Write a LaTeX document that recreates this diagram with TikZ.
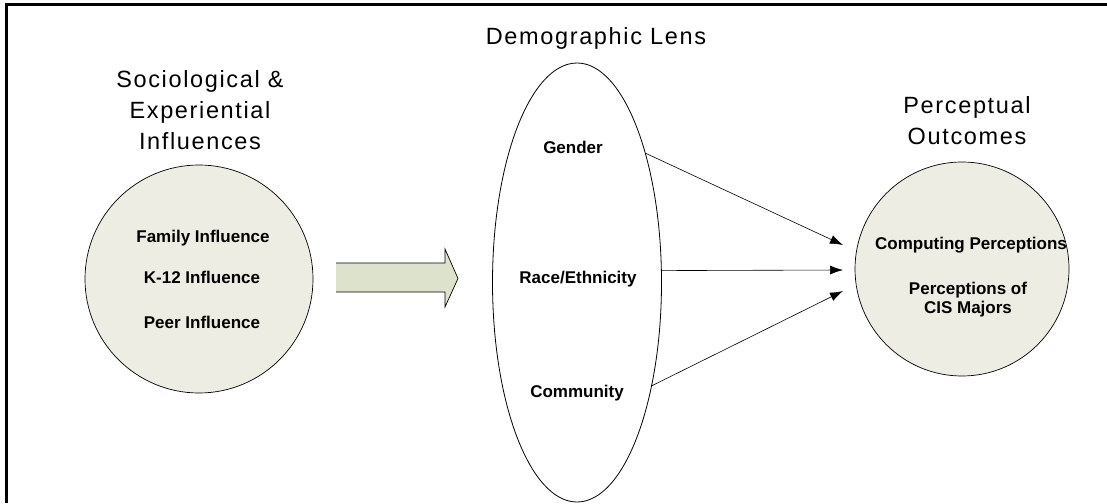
\documentclass[tikz,border=0pt]{standalone}
\usepackage{fontspec}
\setmainfont{Liberation Sans}
\newfontfamily\headfont[LetterSpace=7]{Liberation Sans}
\usetikzlibrary{shapes.geometric,arrows.meta}

\definecolor{bubblefill}{HTML}{EDEDE3}
\definecolor{arrowfill}{HTML}{DDE2CC}

\tikzset{
  heading/.style={font=\headfont\fontsize{23.5}{31}\selectfont, align=center, inner sep=0pt, anchor=north},
  item/.style={font=\bfseries\fontsize{17}{19}\selectfont, align=center, inner sep=0pt, anchor=base},
  bubble/.style={circle, draw, line width=0.7pt, fill=bubblefill, inner sep=0pt},
  lensshape/.style={ellipse, draw, line width=0.8pt, inner sep=0pt},
  link/.style={line width=0.6pt, -{Latex[length=13pt,width=9pt]}},
  frameline/.style={line width=3pt}
}

\begin{document}
\begin{tikzpicture}[x=1pt,y=-1pt]
  \useasboundingbox (0,0) rectangle (1107,503);

  % frame: top and left edges only
  \draw[frameline] (1107,4.5) -- (6.5,4.5) -- (6.5,503);

  % headings
  \node[heading] (hsoc) at (200,70) {Sociological \&\\Experiential\\Influences};
  \node[heading] (hdem) at (596,27) {Demographic Lens};
  \node[heading] (hper) at (967,96) {Perceptual\\Outcomes};

  % left bubble
  \node[bubble, minimum size=228pt] (soc) at (199,279) {};
  \node[item] (fam) at (203,242) {Family Influence};
  \node[item] (k12) at (202,283) {K-12 Influence};
  \node[item] (peer) at (202,328) {Peer Influence};

  % block arrow
  \fill[arrowfill] (336,263) -- (445,263) -- (445,249) -- (458,278.5)
       -- (445,307) -- (445,292) -- (336,292) -- cycle;
  \draw[line width=0.7pt, line join=miter] (336,263) -- (445,263) -- (445,249)
       -- (458,278.5) -- (445,307) -- (445,292) -- (336,292);

  % lens
  \node[lensshape, minimum width=169pt, minimum height=439pt] (lens) at (577,282.5) {};
  \node[item] (gen) at (573,153) {Gender};
  \node[item] (race) at (578,283) {Race/Ethnicity};
  \node[item] (comm) at (577,397) {Community};

  % right bubble
  \node[bubble, minimum size=214pt] (out) at (962,269) {};
  \node[item] (comp) at (971,249) {Computing Perceptions};
  \node[item] (cis) at (968,313) {Perceptions of\\CIS Majors};

  % arrow ends
  \coordinate (t1) at (843,245);
  \coordinate (t2) at (843,270);
  \coordinate (t3) at (843,291);

  \draw[link] (lens.62.6) -- (t1);
  \draw[link] (lens.8) -- (t2);
  \draw[link] (lens.-54.7) -- (t3);
\end{tikzpicture}
\end{document}
